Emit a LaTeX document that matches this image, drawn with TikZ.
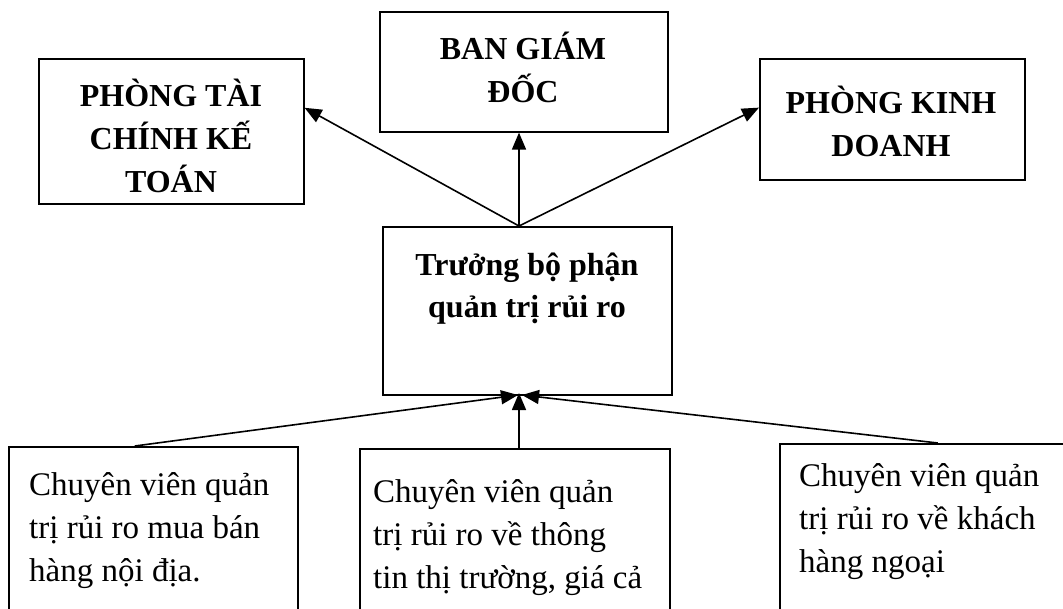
\documentclass[tikz,border=0pt]{standalone}
\usepackage{fontspec}
\setmainfont{Liberation Serif}
\usetikzlibrary{arrows.meta}
\newcommand\clines[1]{\vtop{\baselineskip=43pt\lineskiplimit=-100pt\halign{\hfil##\hfil\cr#1\crcr}}}
\newcommand\llines[1]{\vtop{\baselineskip=43pt\lineskiplimit=-100pt\halign{##\hfil\cr#1\crcr}}}
\tikzset{
  box/.style={draw, line width=1.6pt, rectangle, inner sep=0pt, anchor=north west},
  hdr/.style={font=\fontsize{32}{43}\selectfont\bfseries, inner sep=0pt, anchor=base},
  body/.style={font=\fontsize{33}{43}\selectfont, inner sep=0pt, anchor=base west},
  arr/.style={line width=1.6pt, -{Triangle[length=17pt,width=14pt]}}
}
\begin{document}
\begin{tikzpicture}[x=1pt,y=-1pt]
\useasboundingbox (0,0) rectangle (1063,608);
\clip (0,0) rectangle (1063,608);
\fill[white] (0,0) rectangle (1063,608);
% boxes
\node[box, minimum width=265pt, minimum height=145pt] (ptckt) at (38,58) {};
\node[box, minimum width=288pt, minimum height=120pt] (bgd) at (379,11) {};
\node[box, minimum width=265pt, minimum height=121pt] (pkd) at (759,58) {};
\node[box, minimum width=289pt, minimum height=168pt] (tbp) at (382,226) {};
\node[box, minimum width=289pt, minimum height=200pt] (lb) at (8,446) {};
\node[box, minimum width=310pt, minimum height=200pt] (mb) at (359,448) {};
\node[box, minimum width=320pt, minimum height=200pt] (rb) at (779,443) {};
% texts
\node[hdr] (tptckt) at (171,106) {\clines{PHÒNG TÀI\cr CHÍNH KẾ\cr TOÁN}};
\node[hdr] (tbgd) at (523,59) {\clines{BAN GIÁM\cr ĐỐC}};
\node[hdr] (tpkd) at (891,113) {\clines{PHÒNG KINH\cr DOANH}};
\node[hdr] (ttbp) at (527,275) {\vtop{\baselineskip=42pt\lineskiplimit=-100pt\halign{\hfil#\hfil\cr Trưởng bộ phận\cr quản trị rủi ro\crcr}}};
\node[body] (tlb) at (29,495) {\llines{Chuyên viên quản\cr trị rủi ro mua bán\cr hàng nội địa.}};
\node[body] (tmb) at (373,502) {\llines{Chuyên viên quản\cr trị rủi ro về thông\cr tin thị trường, giá cả}};
\node[body] (trb) at (799,486) {\llines{Chuyên viên quản\cr trị rủi ro về khách\cr hàng ngoại}};
% connector points
\coordinate (top) at (519,226);
\coordinate (bot) at (519,395);
% upper arrows
\draw[arr] (top) -- (ptckt.10.9);
\draw[arr] (top) -- (top |- bgd.south);
\draw[arr] (top) -- (pkd.175.5);
% lower arrows
\draw[arr] ([xshift=-18.5pt]lb.north) -- ([xshift=-1pt]bot);
\draw[arr] (bot |- mb.north) -- ([yshift=2pt]bot);
\draw[arr] ([xshift=-2pt]rb.north) -- ([xshift=3pt]bot);
\end{tikzpicture}
\end{document}
